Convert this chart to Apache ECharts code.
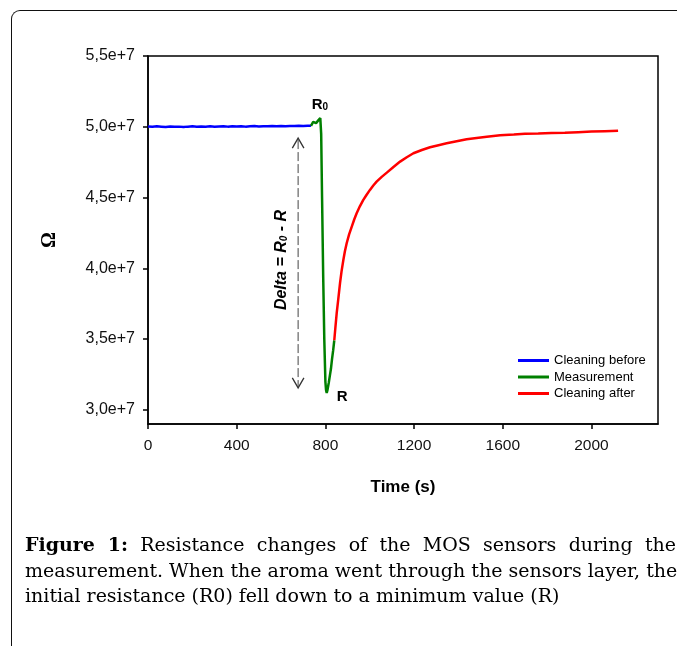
<!DOCTYPE html>
<html>
<head>
<meta charset="utf-8">
<script src="https://cdn.jsdelivr.net/npm/echarts@6/dist/echarts.min.js"></script>
<style>
  html, body { margin: 0; padding: 0; width: 677px; height: 646px; overflow: hidden; background: #fff; }
  #frame { position: absolute; left: 11px; top: 10px; width: 720px; height: 700px;
           border-left: 1.5px solid #111; border-top: 1.5px solid #111; border-top-left-radius: 9px; }
  #chart { position: absolute; left: 0; top: 0; width: 677px; height: 646px; }
  #caption { position: absolute; left: 25px; top: 532px; width: 651px;
             font-family: "DejaVu Serif", serif; font-size: 19px; line-height: 25.5px; color: #000; }
  #caption .ln { white-space: nowrap; text-align: justify; text-align-last: justify; }
  #caption .last { white-space: nowrap; text-align: left; text-align-last: left; }
  #caption b { font-weight: bold; }
</style>
</head>
<body>
<div id="frame"></div>
<div id="chart"></div>
<div id="caption">
  <div class="ln"><b>Figure 1:</b> Resistance changes of the MOS sensors during the</div>
  <div class="ln">measurement. When the aroma went through the sensors layer, the</div>
  <div class="last">initial resistance (R0) fell down to a minimum value (R)</div>
</div>
<script>
// ---- data (time in s, resistance in ohm) ----
const beforeTime = [0,20,40,60,80,100,120,140,160,180,200,220,240,260,280,300,320,340,360,380,400,420,440,460,480,500,520,540,560,580,600,620,640,660,680,700,720,735];
const beforeValue = [50020000,50000000,50030000,50010000,49990000,50020000,50000000,50010000,49980000,50010000,50030000,50000000,50020000,50010000,50030000,50000000,50020000,50040000,50010000,50030000,50020000,50040000,50010000,50030000,50050000,50020000,50040000,50030000,50050000,50030000,50060000,50040000,50060000,50050000,50070000,50060000,50080000,50070000];

const measTime = [735,740,745,749,754,758,763,768,773,777,779,781,785,790,795,800,803,806,810,815,820,825,830,835,840];
const measValue = [50070000,50200000,50350000,50420000,50350000,50260000,50350000,50450000,50500000,50620000,50660000,49500000,45000000,39500000,35000000,32000000,31400000,31200000,31450000,31900000,32400000,32900000,33600000,34200000,34900000];

const afterTime = [840,845,851,858,866,873,881,888,896,907,919,930,941,956,971,986,1001,1016,1031,1054,1077,1107,1137,1167,1197,1235,1272,1310,1347,1392,1437,1482,1528,1588,1650,1700,1760,1820,1880,1940,2000,2060,2120];
const afterValue = [34900000,35800000,36830000,37800000,38950000,39800000,40590000,41200000,41770000,42400000,42950000,43450000,43890000,44400000,44830000,45200000,45540000,45850000,46120000,46460000,46760000,47160000,47540000,47850000,48130000,48360000,48550000,48700000,48830000,48980000,49120000,49210000,49300000,49400000,49450000,49500000,49520000,49560000,49580000,49620000,49660000,49690000,49720000];

const seriesNames = ['Cleaning before', 'Measurement', 'Cleaning after'];
const seriesColors = ['#0000ff', '#008000', '#ff0000'];
const xTicks = [0, 400, 800, 1200, 1600, 2000];
const yTicks = [30000000, 35000000, 40000000, 45000000, 50000000, 55000000];

// annotation anchors (data coords)
const arrowTime = 677, arrowTop = 49200000, arrowBottom = 31550000;
const peakPoint = [779, 50660000];
const minPoint = [806, 31200000];

const zip = (a, b) => a.map((t, i) => [t, b[i]]);
const sets = [zip(beforeTime, beforeValue), zip(measTime, measValue), zip(afterTime, afterValue)];

const chart = echarts.init(document.getElementById('chart'), null, { renderer: 'canvas' });
const sans = 'Liberation Sans, Arial, sans-serif';

const option = {
  animation: false,
  backgroundColor: 'transparent',
  grid: { left: 148, top: 56, right: 19, bottom: 222, show: true, borderColor: '#000', borderWidth: 1.5, backgroundColor: 'transparent' },
  legend: {
    orient: 'vertical', left: 513, top: 349,
    icon: 'rect', itemWidth: 31, itemHeight: 3, itemGap: 3.5,
    textStyle: { fontFamily: sans, fontSize: 13, color: '#000' },
    data: seriesNames
  },
  xAxis: {
    type: 'value', min: 0, max: 2300,
    name: 'Time (s)', nameLocation: 'middle', nameGap: 55,
    nameTextStyle: { fontFamily: sans, fontSize: 17, fontWeight: 'bold', color: '#000' },
    axisLine: { show: true, lineStyle: { color: '#000', width: 1.5 } },
    axisTick: { show: true, length: 5, lineStyle: { color: '#000', width: 1.5 }, customValues: xTicks },
    axisLabel: { fontFamily: sans, fontSize: 15.5, color: '#111', margin: 14, customValues: xTicks,
      formatter: v => String(v) },
    splitLine: { show: false }
  },
  yAxis: {
    type: 'value', min: 29000000, max: 55000000,
    name: 'Ω', nameLocation: 'middle', nameGap: 88,
    nameTextStyle: { fontFamily: 'Liberation Serif, serif', fontSize: 20, fontWeight: 'bold', color: '#000' },
    axisLine: { show: true, lineStyle: { color: '#000', width: 1.5 } },
    axisTick: { show: true, length: 5, lineStyle: { color: '#000', width: 1.5 }, customValues: yTicks },
    axisLabel: { fontFamily: sans, fontSize: 16, color: '#111', margin: 13, customValues: yTicks,
      formatter: v => (v / 1e7).toFixed(1).replace('.', ',') + 'e+7' },
    splitLine: { show: false }
  },
  series: sets.map((d, i) => ({
    name: seriesNames[i], type: 'line', data: d,
    showSymbol: false, symbol: 'none', smooth: false,
    color: seriesColors[i],
    lineStyle: { color: seriesColors[i], width: 2.5 },
    z: i === 1 ? 4 : 3
  }))
};
chart.setOption(option);

// annotations positioned through the chart's scales
const px = p => chart.convertToPixel({ gridIndex: 0 }, p);
const aTop = px([arrowTime, arrowTop]);
const aBot = px([arrowTime, arrowBottom]);
const pk = px(peakPoint);
const mn = px(minPoint);
const ax = aTop[0];
const arrowStyle = { stroke: '#333', lineWidth: 1.3, fill: null };
chart.setOption({
  graphic: [
    { type: 'line', shape: { x1: ax, y1: aTop[1] + 2, x2: ax, y2: aBot[1] - 2 },
      style: { stroke: '#444', lineWidth: 1, lineDash: [9, 3] }, z: 10 },
    { type: 'polyline', shape: { points: [[ax - 5.8, aTop[1] + 10], [ax, aTop[1]], [ax + 5.8, aTop[1] + 10]] }, style: arrowStyle, z: 10 },
    { type: 'polyline', shape: { points: [[ax - 5.8, aBot[1] - 10], [ax, aBot[1]], [ax + 5.8, aBot[1] - 10]] }, style: arrowStyle, z: 10 },
    { type: 'text', x: ax - 17, y: (aTop[1] + aBot[1]) / 2 - 3, rotation: Math.PI / 2,
      style: { text: '{m|Delta = R}{s|0}{m| - R}', align: 'center', verticalAlign: 'middle',
        rich: { m: { fontFamily: sans, fontSize: 16, fontWeight: 'bold', fontStyle: 'italic', fill: '#000', verticalAlign: 'bottom' },
                s: { fontFamily: sans, fontSize: 10, fontWeight: 'bold', fontStyle: 'italic', fill: '#000', verticalAlign: 'bottom' } } }, z: 10 },
    { type: 'text', x: pk[0] - 9, y: pk[1] - 5,
      style: { text: '{m|R}{s|0}', align: 'left', verticalAlign: 'bottom',
        rich: { m: { fontFamily: sans, fontSize: 15, fontWeight: 'bold', fill: '#000', verticalAlign: 'bottom' },
                s: { fontFamily: sans, fontSize: 10, fontWeight: 'bold', fill: '#000', verticalAlign: 'bottom' } } }, z: 10 },
    { type: 'text', x: mn[0] + 10, y: mn[1] - 4,
      style: { text: 'R', fontFamily: sans, fontSize: 15, fontWeight: 'bold', fill: '#000', align: 'left', verticalAlign: 'top' }, z: 10 }
  ]
});
</script>
</body>
</html>
